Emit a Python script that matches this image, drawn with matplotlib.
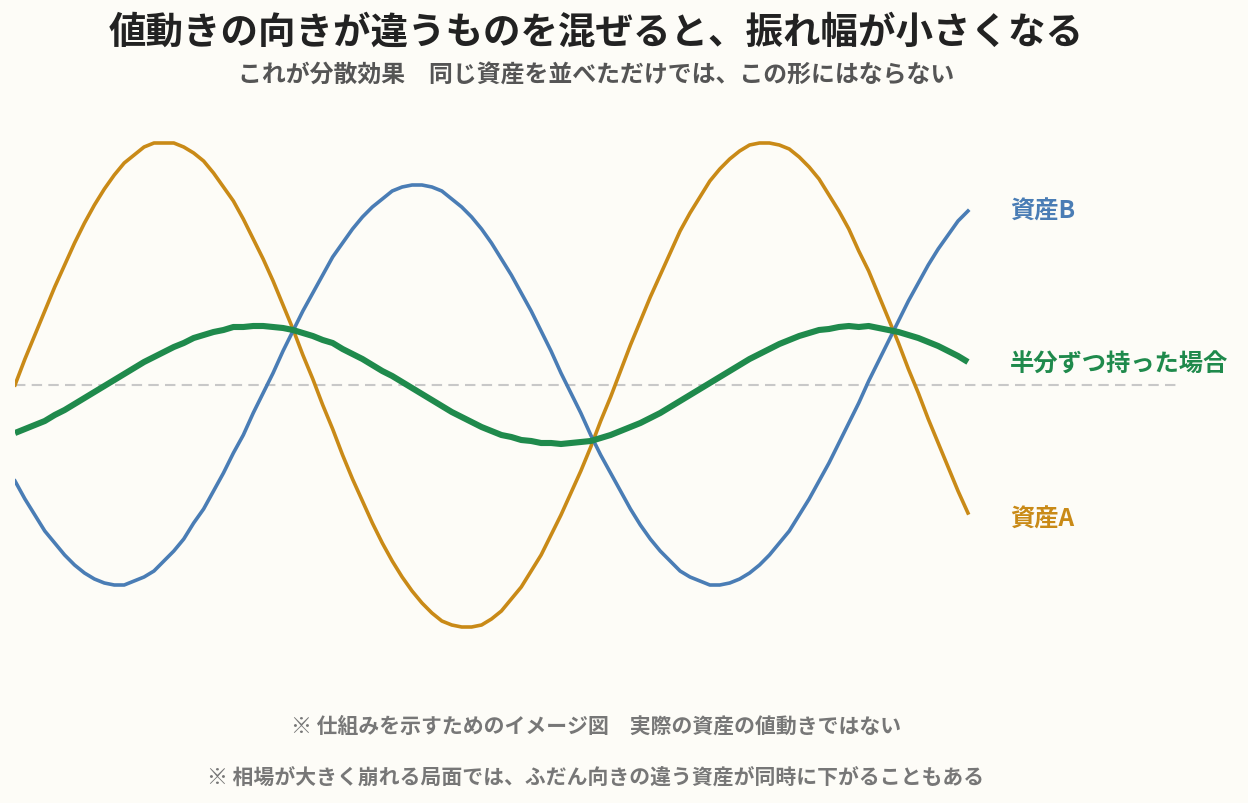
import matplotlib.pyplot as plt
import numpy as np

plt.rcParams['font.family'] = ['Noto Sans CJK JP', 'DejaVu Sans']

# values (relative units, 0 = baseline), half-step samples
t = np.arange(0, 48.5, 0.5)
asset_a = [0.00, 0.13, 0.25, 0.37, 0.49, 0.60, 0.71, 0.81, 0.90, 0.98,
           1.05, 1.11, 1.15, 1.19, 1.21, 1.21, 1.21, 1.19, 1.16, 1.12,
           1.06, 0.99, 0.92, 0.83, 0.73, 0.63, 0.52, 0.40, 0.28, 0.15,
           0.03, -0.10, -0.22, -0.35, -0.47, -0.58, -0.69, -0.79, -0.88, -0.96,
           -1.03, -1.09, -1.14, -1.18, -1.20, -1.21, -1.21, -1.20, -1.17, -1.13,
           -1.07, -1.01, -0.93, -0.85, -0.75, -0.65, -0.54, -0.43, -0.31, -0.18,
           -0.06, 0.07, 0.20, 0.32, 0.44, 0.55, 0.66, 0.77, 0.86, 0.94,
           1.02, 1.08, 1.13, 1.17, 1.20, 1.21, 1.21, 1.20, 1.18, 1.14,
           1.09, 1.03, 0.95, 0.87, 0.78, 0.67, 0.57, 0.45, 0.33, 0.21,
           0.08, -0.04, -0.17, -0.29, -0.41, -0.53, -0.64]
asset_b = [-0.48, -0.57, -0.65, -0.73, -0.79, -0.85, -0.90, -0.94, -0.97, -0.99,
           -1.00, -1.00, -0.98, -0.96, -0.93, -0.88, -0.83, -0.77, -0.69, -0.62,
           -0.53, -0.44, -0.34, -0.25, -0.14, -0.04, 0.06, 0.17, 0.27, 0.37,
           0.46, 0.55, 0.64, 0.71, 0.78, 0.84, 0.89, 0.93, 0.97, 0.99,
           1.00, 1.00, 0.99, 0.97, 0.93, 0.89, 0.84, 0.78, 0.71, 0.63,
           0.55, 0.46, 0.37, 0.27, 0.17, 0.06, -0.04, -0.14, -0.25, -0.35,
           -0.44, -0.53, -0.62, -0.70, -0.77, -0.83, -0.88, -0.93, -0.96, -0.98,
           -1.00, -1.00, -0.99, -0.97, -0.94, -0.90, -0.85, -0.79, -0.73, -0.65,
           -0.57, -0.48, -0.39, -0.29, -0.19, -0.09, 0.02, 0.12, 0.22, 0.32,
           0.42, 0.51, 0.60, 0.68, 0.75, 0.82, 0.87]
mixed = np.mean([asset_a, asset_b], axis=0)  # 半分ずつ

bg = '#FDFCF7'
col_a = '#C98A17'
col_b = '#4A7DB5'
col_mix = '#1F8A4C'

fig = plt.figure(figsize=(12.48, 8.04), dpi=100, facecolor=bg)
ax = fig.add_axes([15 / 1248, 1 - 680 / 804, (1178 - 15) / 1248, 560 / 804])
ax.set_facecolor(bg)

ax.axhline(0, color='#C8C8C8', lw=1.5, ls=(0, (5, 3)), zorder=1)
ax.plot(t, asset_a, color=col_a, lw=2.6, zorder=2, solid_joinstyle='round')
ax.plot(t, asset_b, color=col_b, lw=2.6, zorder=2, solid_joinstyle='round')
ax.plot(t, mixed, color=col_mix, lw=4.4, zorder=3, solid_capstyle='butt', solid_joinstyle='round')

ax.set_xlim(0, 58.58)
ax.set_ylim(-1.47, 1.33)
ax.axis('off')

lx = t[-1] + 2.1
ax.text(lx, asset_b[-1], '資産B', color=col_b, fontsize=17.5, fontweight='bold', va='center')
ax.text(lx, mixed[-1] - 0.01, '半分ずつ持った場合', color=col_mix, fontsize=17.5, fontweight='bold', va='center')
ax.text(lx, asset_a[-1] - 0.03, '資産A', color=col_a, fontsize=17.5, fontweight='bold', va='center')

cx = 596 / 1248
fig.text(cx, 1 - 32 / 804, '値動きの向きが違うものを混ぜると、振れ幅が小さくなる',
         ha='center', va='center', fontsize=27, fontweight='bold', color='#222222')
fig.text(cx, 1 - 76 / 804, 'これが分散効果　同じ資産を並べただけでは、この形にはならない',
         ha='center', va='center', fontsize=17.2, fontweight='bold', color='#555555')
fig.text(cx, 1 - 726 / 804, '※ 仕組みを示すためのイメージ図　実際の資産の値動きではない',
         ha='center', va='center', fontsize=15, fontweight='bold', color='#777777')
fig.text(cx, 1 - 777 / 804, '※ 相場が大きく崩れる局面では、ふだん向きの違う資産が同時に下がることもある',
         ha='center', va='center', fontsize=15, fontweight='bold', color='#777777')

fig.savefig('out.png', dpi=100, facecolor=bg)
